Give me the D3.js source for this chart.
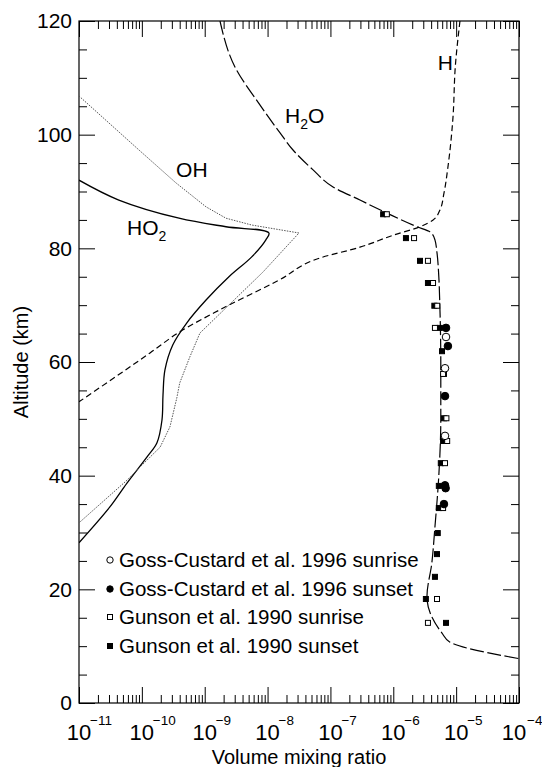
<!DOCTYPE html>
<html>
<head>
<meta charset="utf-8">
<script src="https://cdn.jsdelivr.net/npm/d3@7"></script>
<style>
  body { margin: 0; background: #fff; }
  svg { display: block; font-family: 'Liberation Sans', Arial, Helvetica, sans-serif; }
</style>
</head>
<body>
<svg id="chart" width="542" height="767"></svg>
<script>
// model profiles: [volume mixing ratio, altitude km]
const h2o = [[1.75e-9, 120], [3.0e-9, 112], [7.6e-9, 105.2], [1.58e-8, 100.3], [2.54e-8, 97.3],
  [5.3e-8, 93.8], [1.1e-7, 90.8], [2.95e-7, 88.5], [7.9e-7, 86.2], [2.38e-6, 83.8], [3.84e-6, 82.9],
  [4.6e-6, 81.5], [4.96e-6, 79.2], [5.3e-6, 75], [5.5e-6, 70], [5.7e-6, 60], [5.7e-6, 50],
  [5.3e-6, 40], [4.6e-6, 31], [4.1e-6, 24.6], [3.43e-6, 18.7], [5.96e-6, 12.3], [7.98e-6, 10.7],
  [1.0e-4, 7.8]];
const hAtom = [[1.15e-5, 120], [9.7e-6, 112], [8.9e-6, 103], [7.4e-6, 94.3], [6.4e-6, 89.7],
  [5.5e-6, 86.7], [4.3e-6, 85], [2.66e-6, 83.8], [9.9e-7, 82.3], [2.95e-7, 80.2], [6.8e-8, 78.3],
  [1.52e-8, 74.4], [1.75e-9, 69.2], [4.0e-10, 65.3], [1.35e-10, 61.6], [1e-11, 53]];
const ho2 = [[1.0e-11, 92.0], [4.3e-11, 88.5], [3.9e-10, 85.3], [2.18e-9, 83.8], [1.05e-8, 82.7],
  [9.4e-9, 81.5], [5.6e-9, 78.5], [2.43e-9, 75.0], [1.05e-9, 70.9], [5.2e-10, 66.9], [3.1e-10, 63.0],
  [2.33e-10, 58.6], [2.17e-10, 54.2], [2.09e-10, 49.8], [1.74e-10, 45.8], [1.21e-10, 43.3],
  [5.8e-11, 38.7], [3.1e-11, 34.5], [1.0e-11, 28.2]];
const oh = [[1.0e-11, 106.8], [9.0e-11, 97.3], [3.5e-10, 91.5], [1.05e-9, 87.3], [2.18e-9, 85.3],
  [5.6e-9, 84.1], [3.16e-8, 82.7], [8.4e-9, 75.8], [2.26e-9, 69.7], [8.4e-10, 65.1], [5.8e-10, 60.9],
  [4.0e-10, 56.3], [3.6e-10, 53.7], [2.8e-10, 48.6], [1.95e-10, 45.0], [9.3e-11, 41.5],
  [5.8e-11, 39.2], [1.0e-11, 31.7]];

// H2O observations: [volume mixing ratio, altitude km]
const gossSunrise = [[6.9e-6, 64.4], [6.65e-6, 58.9], [6.65e-6, 47.0]];
const gossSunset = [[6.9e-6, 66.0], [7.4e-6, 62.8], [6.65e-6, 54.0], [6.65e-6, 38.3], [6.8e-6, 37.8],
  [6.4e-6, 35.0]];
const gunsonSunrise = [[7.9e-7, 86.0], [2.14e-6, 81.8], [3.56e-6, 77.8], [4.29e-6, 73.9], [5.0e-6, 69.9],
  [4.6e-6, 66.0], [6.2e-6, 57.9], [7.0e-6, 50.1], [7.2e-6, 46.1], [6.65e-6, 42.2], [6.2e-6, 34.3],
  [4.96e-6, 18.3], [3.56e-6, 14.1]];
const gunsonSunset = [[6.9e-7, 86.0], [1.59e-6, 81.8], [2.66e-6, 77.8], [3.56e-6, 73.9], [4.5e-6, 69.9],
  [5.5e-6, 66.0], [5.96e-6, 61.9], [6.4e-6, 57.9], [6.4e-6, 50.1], [6.2e-6, 46.1], [5.7e-6, 42.2],
  [5.3e-6, 38.2], [5.3e-6, 34.3], [5.1e-6, 29.9], [4.96e-6, 26.2], [4.6e-6, 22.2], [3.3e-6, 18.3],
  [6.9e-6, 14.1]];

const xDecades = [-11, -10, -9, -8, -7, -6, -5, -4];
const yTicks = [0, 20, 40, 60, 80, 100, 120];
const legendLabels = ['Goss-Custard et al. 1996 sunrise', 'Goss-Custard et al. 1996 sunset',
  'Gunson et al. 1990 sunrise', 'Gunson et al. 1990 sunset'];
const curveLabels = [['H', 5.1e-6, 111.4, ''], ['H', 1.9e-8, 102.1, '2O'], ['OH', 3.5e-10, 92.6, ''],
  ['HO', 5.8e-11, 82.4, '2']];

const plotLeft = 79, plotRight = 519, plotTop = 21, plotBottom = 703;
const svg = d3.select('#chart');

const x = d3.scaleLog().domain([1e-11, 1e-4]).range([plotLeft, plotRight]);
const y = d3.scaleLinear().domain([0, 120]).range([plotBottom, plotTop]);

const minorX = [];
xDecades.slice(0, -1).forEach(e => {
  for (let k = 2; k <= 9; k++) minorX.push(k * Math.pow(10, e));
});
const majorX = xDecades.map(e => Math.pow(10, e));
const minorY = d3.range(0, 121, 5).filter(v => v % 20 !== 0);

svg.append('defs').append('clipPath').attr('id', 'plot-clip')
  .append('rect').attr('x', plotLeft).attr('y', plotTop)
  .attr('width', plotRight - plotLeft).attr('height', plotBottom - plotTop);

const axisGroup = svg.append('g').attr('class', 'axes');
const addAxis = (axis, transform) => {
  const g = axisGroup.append('g').attr('transform', transform).call(axis);
  g.select('.domain').remove();
  g.selectAll('.tick line').attr('stroke', '#000').attr('stroke-width', 1);
  return g;
};

addAxis(d3.axisBottom(x).tickValues(majorX).tickSize(-16).tickFormat(''), `translate(0,${plotBottom})`);
addAxis(d3.axisBottom(x).tickValues(minorX).tickSize(-8).tickFormat(''), `translate(0,${plotBottom})`);
addAxis(d3.axisTop(x).tickValues(majorX).tickSize(-16).tickFormat(''), `translate(0,${plotTop})`);
addAxis(d3.axisTop(x).tickValues(minorX).tickSize(-8).tickFormat(''), `translate(0,${plotTop})`);

const yAxis = addAxis(d3.axisLeft(y).tickValues(yTicks).tickSize(-16).tickPadding(7),
  `translate(${plotLeft},0)`);
yAxis.selectAll('text').attr('font-size', 21).attr('fill', '#000')
  .attr('font-family', "'Liberation Sans', Arial, sans-serif");
addAxis(d3.axisLeft(y).tickValues(minorY).tickSize(-8).tickFormat(''), `translate(${plotLeft},0)`);
addAxis(d3.axisRight(y).tickValues(yTicks).tickSize(-16).tickFormat(''), `translate(${plotRight},0)`);
addAxis(d3.axisRight(y).tickValues(minorY).tickSize(-8).tickFormat(''), `translate(${plotRight},0)`);

axisGroup.append('rect')
  .attr('x', plotLeft).attr('y', plotTop)
  .attr('width', plotRight - plotLeft).attr('height', plotBottom - plotTop)
  .attr('fill', 'none').attr('stroke', '#000').attr('stroke-width', 1.2);

// power-of-ten labels; the last one is nudged left so it stays on the page
const edgeShift = d => (d === xDecades[xDecades.length - 1] ? -5 : 0);
const xLabels = axisGroup.selectAll('.xlabel').data(xDecades).enter()
  .append('g').attr('class', 'xlabel');
xLabels.append('text')
  .attr('x', d => x(Math.pow(10, d)) + edgeShift(d))
  .attr('y', 740)
  .attr('text-anchor', 'middle')
  .attr('font-size', 22)
  .text('10');
xLabels.append('text')
  .attr('x', d => x(Math.pow(10, d)) + 11 + edgeShift(d) * 0.6)
  .attr('y', 725)
  .attr('font-size', 13.5)
  .text(d => '\u2212' + Math.abs(d));

svg.append('text')
  .attr('x', (plotLeft + plotRight) / 2)
  .attr('y', 764)
  .attr('text-anchor', 'middle')
  .attr('font-size', 20)
  .text('Volume mixing ratio');

svg.append('text')
  .attr('transform', `translate(28,${(plotTop + plotBottom) / 2}) rotate(-90)`)
  .attr('text-anchor', 'middle')
  .attr('font-size', 20)
  .text('Altitude (km)');

const line = d3.line().x(d => x(d[0])).y(d => y(d[1]));
const plot = svg.append('g').attr('clip-path', 'url(#plot-clip)');

plot.append('path').datum(h2o)
  .attr('d', line.curve(d3.curveMonotoneY))
  .attr('fill', 'none').attr('stroke', '#000').attr('stroke-width', 1.2)
  .attr('stroke-dasharray', '14,3.5');
plot.append('path').datum(hAtom)
  .attr('d', line.curve(d3.curveMonotoneY))
  .attr('fill', 'none').attr('stroke', '#000').attr('stroke-width', 1.2)
  .attr('stroke-dasharray', '6,3.5');
plot.append('path').datum(ho2)
  .attr('d', line.curve(d3.curveCatmullRom.alpha(0.5)))
  .attr('fill', 'none').attr('stroke', '#000').attr('stroke-width', 1.3);
plot.append('path').datum(oh)
  .attr('d', line.curve(d3.curveLinear))
  .attr('fill', 'none').attr('stroke', '#555').attr('stroke-width', 1)
  .attr('stroke-dasharray', '1.5,1.2');

const square = (sel, data, filled, size) => {
  sel.selectAll(null).data(data).enter().append('rect')
    .attr('x', d => x(d[0]) - size / 2)
    .attr('y', d => y(d[1]) - size / 2)
    .attr('width', size).attr('height', size)
    .attr('fill', filled ? '#000' : '#fff')
    .attr('stroke', '#000').attr('stroke-width', 1);
};
const circle = (sel, data, filled, r) => {
  sel.selectAll(null).data(data).enter().append('circle')
    .attr('cx', d => x(d[0]))
    .attr('cy', d => y(d[1]))
    .attr('r', r)
    .attr('fill', filled ? '#000' : '#fff')
    .attr('stroke', '#000').attr('stroke-width', 1);
};

const marks = svg.append('g');
square(marks, gunsonSunset, true, 5);
square(marks, gunsonSunrise, false, 5);
circle(marks, gossSunrise, false, 3.8);
circle(marks, gossSunset, true, 3.8);

const labels = svg.append('g').attr('font-size', 21);
curveLabels.forEach(([main, vmr, alt, sub]) => {
  const t = labels.append('text').attr('x', x(vmr)).attr('y', y(alt)).text(main);
  if (sub === '2O') {
    t.append('tspan').attr('font-size', 14).attr('dy', 6).text('2');
    t.append('tspan').attr('dy', -6).text('O');
  } else if (sub) {
    t.append('tspan').attr('font-size', 14).attr('dy', 6).text(sub);
  }
});

// legend
const legendY = [560, 589, 617, 646];
const legend = svg.append('g');
legend.append('circle').attr('cx', 110).attr('cy', legendY[0]).attr('r', 3.2)
  .attr('fill', '#fff').attr('stroke', '#000');
legend.append('circle').attr('cx', 110).attr('cy', legendY[1]).attr('r', 3.2)
  .attr('fill', '#000').attr('stroke', '#000');
legend.append('rect').attr('x', 107.5).attr('y', legendY[2] - 2.5).attr('width', 5).attr('height', 5)
  .attr('fill', '#fff').attr('stroke', '#000');
legend.append('rect').attr('x', 107.5).attr('y', legendY[3] - 2.5).attr('width', 5).attr('height', 5)
  .attr('fill', '#000').attr('stroke', '#000');
legend.selectAll('text').data(legendLabels).enter().append('text')
  .attr('x', 119)
  .attr('y', (d, i) => legendY[i] + 7.3)
  .attr('font-size', 20.5)
  .text(d => d);
</script>
</body>
</html>
